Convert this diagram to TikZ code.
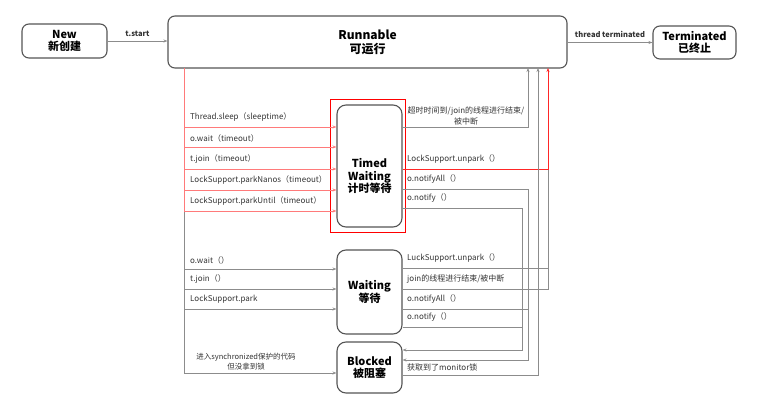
\documentclass[tikz,border=0pt]{standalone}
\usepackage{fontspec}
\setmainfont{Noto Sans CJK SC}
\usetikzlibrary{arrows.meta}
\definecolor{lg}{HTML}{8C8C8C}
\definecolor{bx}{HTML}{555555}
\definecolor{tx}{HTML}{333333}
\definecolor{lred}{HTML}{FF7A7A}
\begin{document}
\begin{tikzpicture}[x=1pt,y=-1pt,
  box/.style={draw=bx, rounded corners=7pt, line width=1.1pt, align=center, text=black,
    font=\bfseries\fontsize{11}{12.5}\selectfont, inner sep=1pt},
  ttl/.style={align=center, text=black, font=\bfseries\fontsize{11}{12.5}\selectfont, inner sep=0pt},
  lbl/.style={font=\fontsize{8}{10}\selectfont, text=tx, inner sep=0pt},
  gl/.style={draw=lg, line width=0.8pt},
  rl/.style={draw=lred, line width=0.9pt},
  rr/.style={draw=red!85, line width=0.9pt},
  arr/.style={-{Stealth[length=4pt,width=3pt]}}
]
\useasboundingbox (0,0) rectangle (761,401);

% main boxes
\node[box, minimum width=85pt, minimum height=34pt] (new) at (64.5,41) {New\\新创建};
\node[box, minimum width=399pt, minimum height=52pt, font=\bfseries\fontsize{12}{14}\selectfont] (run) at (367.5,42) {Runnable\\可运行};
\node[box, minimum width=83pt, minimum height=33pt] (term) at (694.5,42.5) {Terminated\\已终止};
\node[draw=red, line width=1pt, minimum width=75pt, minimum height=132pt, inner sep=0pt] (twframe) at (367.5,166) {};
\node[box, rounded corners=9pt, minimum width=65pt, minimum height=122pt] (tw) at (369.5,166) {};
\node[ttl] (twtext) at (369.5,176) {Timed\\Waiting\\计时等待};
\node[box, rounded corners=9pt, minimum width=65pt, minimum height=84pt] (wt) at (369.5,292) {Waiting\\等待};
\node[box, rounded corners=9pt, minimum width=65pt, minimum height=51pt] (bl) at (369.5,367.5) {Blocked\\被阻塞};

% top arrows
\draw[gl,arr] (new.east) -- node[lbl, above=4pt, font=\bfseries\fontsize{7.5}{9}\selectfont] {t.start} (run.west |- new.east);
\draw[gl,arr] (run.east |- term.west) -- node[lbl, above=4pt, font=\bfseries\fontsize{7.5}{9}\selectfont] {thread terminated} (term.west);

% left trunk
\coordinate (Ltop) at (184,68);
\coordinate (Lred) at (184,211);
\coordinate (Lbot) at (184,373);
\draw[rl] (Ltop) -- (Lred);
\draw[gl] (Lred) -- (Lbot);

% into timed waiting
\foreach \i/\y/\t in {1/127/{Thread.sleep（sleeptime）},2/147/{o.wait（timeout）},3/169/{t.join（timeout）},4/190/{LockSupport.parkNanos（timeout）},5/211/{LockSupport.parkUntil（timeout）}}{
  \coordinate (l\i) at (184,\y);
  \draw[rl,arr] (l\i) -- (l\i -| tw.west);
  \node[lbl, anchor=south west] (ll\i) at (190,\y-5) {\t};
}
% into waiting
\foreach \i/\y/\t in {6/269/{o.wait（）},7/289/{t.join（）},8/309/{LockSupport.park}}{
  \coordinate (l\i) at (184,\y);
  \draw[gl,arr] (l\i) -- (l\i -| wt.west);
  \node[lbl, anchor=south west] (ll\i) at (190,\y-5) {\t};
}
% into blocked
\draw[gl,arr] (Lbot) -- (Lbot -| bl.west);
\node[lbl, align=center, font=\fontsize{7.5}{10}\selectfont] (ll9) at (246,362) {进入synchronized保护的代码\\但没拿到锁};

% right side: from timed waiting
\coordinate (a1) at (528,127);
\coordinate (a1t) at (528,68);
\draw[gl,arr] (a1 -| tw.east) -- (a1) -- (a1t);
\node[lbl, align=center, font=\fontsize{8}{11}\selectfont] (r1) at (466,116) {超时时间到/join的线程进行结束/\\被中断};

\coordinate (a2) at (548,169);
\coordinate (a2t) at (548,68);
\coordinate (a2b) at (548,289);
\coordinate (w1) at (548,268);
\draw[gl] (w1 -| wt.east) -- (w1);
\draw[gl] (a2b -| wt.east) -- (a2b) -- (a2);
\draw[rr,arr] (a2 -| tw.east) -- (a2) -- (a2t);
\node[lbl, anchor=south west] (r2) at (407,164) {LockSupport.unpark（）};
\node[lbl, anchor=south west] (r6) at (407,263) {LuckSupport.unpark（）};
\node[lbl, anchor=south west] (r7) at (407,284) {join的线程进行结束/被中断};

\coordinate (a3) at (528,189);
\coordinate (a3b) at (528,360);
\draw[gl,arr] (a3 -| tw.east) -- (a3) -- (a3b) -- (a3b -| bl.east);
\node[lbl, anchor=south west] (r3) at (407,184) {o.notifyAll（）};

\coordinate (a4) at (522,208);
\coordinate (a4b) at (522,350);
\draw[gl,arr] (a4 -| tw.east) -- (a4) -- (a4b) -- (a4b -| bl.east);
\node[lbl, anchor=south west] (r4) at (407,203) {o.notify（）};

\coordinate (w3) at (528,309);
\coordinate (w4) at (522,327);
\draw[gl] (w3 -| wt.east) -- (w3);
\draw[gl] (w4 -| wt.east) -- (w4);
\node[lbl, anchor=south west] (r8) at (407,304) {o.notifyAll（）};
\node[lbl, anchor=south west] (r9) at (407,322) {o.notify（）};

% blocked to runnable
\coordinate (a5) at (538,375);
\coordinate (a5t) at (538,68);
\draw[gl,arr] (a5 -| bl.east) -- (a5) -- (a5t);
\node[lbl, anchor=south west] (r5) at (407,371) {获取到了monitor锁};
\end{tikzpicture}
\end{document}
